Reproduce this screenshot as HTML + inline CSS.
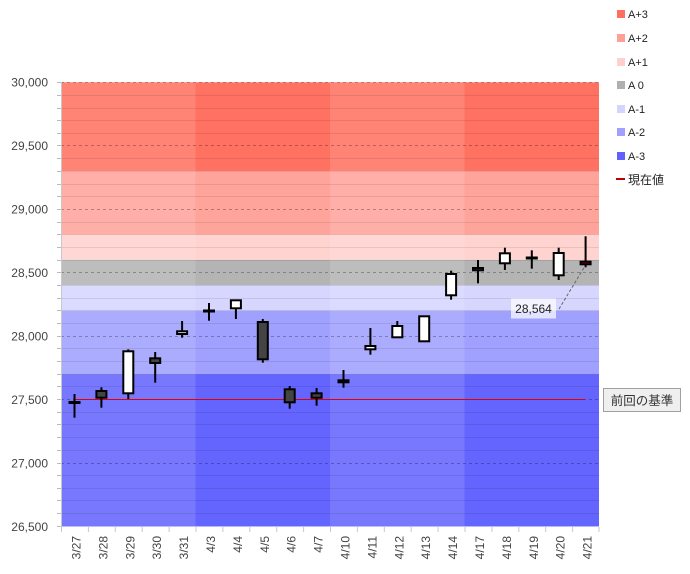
<!DOCTYPE html>
<html><head><meta charset="utf-8"><style>
html,body{margin:0;padding:0;background:#fff;}
svg{display:block;font-family:"Liberation Sans","Noto Sans CJK JP",sans-serif;}
</style></head><body>
<svg width="690" height="574" viewBox="0 0 690 574" xmlns="http://www.w3.org/2000/svg">
<!-- zones (dark base) -->
<rect x="61" y="82.3" width="538" height="88.8" fill="#FF7262"/>
<rect x="61" y="171.1" width="538" height="63.4" fill="#FFA49A"/>
<rect x="61" y="234.5" width="538" height="25.4" fill="#FFD3CF"/>
<rect x="61" y="259.9" width="538" height="25.4" fill="#B4B4B4"/>
<rect x="61" y="285.3" width="538" height="25.4" fill="#D6D6FF"/>
<rect x="61" y="310.7" width="538" height="63.4" fill="#A0A0FF"/>
<rect x="61" y="374.1" width="538" height="152.6" fill="#6464FF"/>
<!-- lighter weeks -->
<rect x="61" y="82.3" width="134.5" height="444.4" fill="#fff" fill-opacity="0.13"/>
<rect x="330" y="82.3" width="134.5" height="444.4" fill="#fff" fill-opacity="0.13"/>
<!-- minor grid -->
<g stroke="#000" stroke-opacity="0.09" stroke-width="1">
<line x1="61" x2="599" y1="95.5" y2="95.5"/><line x1="61" x2="599" y1="108.5" y2="108.5"/><line x1="61" x2="599" y1="120.5" y2="120.5"/><line x1="61" x2="599" y1="133.5" y2="133.5"/>
<line x1="61" x2="599" y1="158.5" y2="158.5"/><line x1="61" x2="599" y1="171.5" y2="171.5"/><line x1="61" x2="599" y1="184.5" y2="184.5"/><line x1="61" x2="599" y1="196.5" y2="196.5"/>
<line x1="61" x2="599" y1="222.5" y2="222.5"/><line x1="61" x2="599" y1="234.5" y2="234.5"/><line x1="61" x2="599" y1="247.5" y2="247.5"/><line x1="61" x2="599" y1="260.5" y2="260.5"/>
<line x1="61" x2="599" y1="285.5" y2="285.5"/><line x1="61" x2="599" y1="298.5" y2="298.5"/><line x1="61" x2="599" y1="310.5" y2="310.5"/><line x1="61" x2="599" y1="323.5" y2="323.5"/>
<line x1="61" x2="599" y1="348.5" y2="348.5"/><line x1="61" x2="599" y1="361.5" y2="361.5"/><line x1="61" x2="599" y1="374.5" y2="374.5"/><line x1="61" x2="599" y1="386.5" y2="386.5"/>
<line x1="61" x2="599" y1="412.5" y2="412.5"/><line x1="61" x2="599" y1="424.5" y2="424.5"/><line x1="61" x2="599" y1="437.5" y2="437.5"/><line x1="61" x2="599" y1="450.5" y2="450.5"/>
<line x1="61" x2="599" y1="475.5" y2="475.5"/><line x1="61" x2="599" y1="488.5" y2="488.5"/><line x1="61" x2="599" y1="500.5" y2="500.5"/><line x1="61" x2="599" y1="513.5" y2="513.5"/>
</g>
<!-- major dashed grid -->
<g stroke="#000" stroke-opacity="0.28" stroke-width="1" stroke-dasharray="3,3">
<line x1="61" x2="599" y1="82.5" y2="82.5"/><line x1="61" x2="599" y1="145.5" y2="145.5"/><line x1="61" x2="599" y1="209.5" y2="209.5"/>
<line x1="61" x2="599" y1="272.5" y2="272.5"/><line x1="61" x2="599" y1="336.5" y2="336.5"/><line x1="61" x2="599" y1="399.5" y2="399.5"/><line x1="61" x2="599" y1="463.5" y2="463.5"/>
</g>
<!-- axes -->
<line x1="61.5" y1="82" x2="61.5" y2="527" stroke="#c8c8c8"/>
<line x1="61" y1="526.5" x2="599" y2="526.5" stroke="#d0d0ff" stroke-opacity="0.6"/>
<g stroke="#bbb">
<line x1="57" x2="61" y1="82.5" y2="82.5"/><line x1="57" x2="61" y1="95.5" y2="95.5"/><line x1="57" x2="61" y1="108.5" y2="108.5"/><line x1="57" x2="61" y1="120.5" y2="120.5"/><line x1="57" x2="61" y1="133.5" y2="133.5"/>
<line x1="57" x2="61" y1="145.5" y2="145.5"/><line x1="57" x2="61" y1="158.5" y2="158.5"/><line x1="57" x2="61" y1="171.5" y2="171.5"/><line x1="57" x2="61" y1="184.5" y2="184.5"/><line x1="57" x2="61" y1="196.5" y2="196.5"/>
<line x1="57" x2="61" y1="209.5" y2="209.5"/><line x1="57" x2="61" y1="222.5" y2="222.5"/><line x1="57" x2="61" y1="234.5" y2="234.5"/><line x1="57" x2="61" y1="247.5" y2="247.5"/><line x1="57" x2="61" y1="260.5" y2="260.5"/>
<line x1="57" x2="61" y1="272.5" y2="272.5"/><line x1="57" x2="61" y1="285.5" y2="285.5"/><line x1="57" x2="61" y1="298.5" y2="298.5"/><line x1="57" x2="61" y1="310.5" y2="310.5"/><line x1="57" x2="61" y1="323.5" y2="323.5"/>
<line x1="57" x2="61" y1="336.5" y2="336.5"/><line x1="57" x2="61" y1="348.5" y2="348.5"/><line x1="57" x2="61" y1="361.5" y2="361.5"/><line x1="57" x2="61" y1="374.5" y2="374.5"/><line x1="57" x2="61" y1="386.5" y2="386.5"/>
<line x1="57" x2="61" y1="399.5" y2="399.5"/><line x1="57" x2="61" y1="412.5" y2="412.5"/><line x1="57" x2="61" y1="424.5" y2="424.5"/><line x1="57" x2="61" y1="437.5" y2="437.5"/><line x1="57" x2="61" y1="450.5" y2="450.5"/>
<line x1="57" x2="61" y1="463.5" y2="463.5"/><line x1="57" x2="61" y1="475.5" y2="475.5"/><line x1="57" x2="61" y1="488.5" y2="488.5"/><line x1="57" x2="61" y1="500.5" y2="500.5"/><line x1="57" x2="61" y1="513.5" y2="513.5"/><line x1="57" x2="61" y1="526.5" y2="526.5"/>
</g>
<g stroke="#c8c8c8">
<line x1="61.5" x2="61.5" y1="527" y2="532"/><line x1="88.4" x2="88.4" y1="527" y2="532"/><line x1="115.3" x2="115.3" y1="527" y2="532"/><line x1="142.2" x2="142.2" y1="527" y2="532"/><line x1="169.1" x2="169.1" y1="527" y2="532"/>
<line x1="196" x2="196" y1="527" y2="532"/><line x1="222.9" x2="222.9" y1="527" y2="532"/><line x1="249.8" x2="249.8" y1="527" y2="532"/><line x1="276.7" x2="276.7" y1="527" y2="532"/><line x1="303.6" x2="303.6" y1="527" y2="532"/>
<line x1="330.5" x2="330.5" y1="527" y2="532"/><line x1="357.4" x2="357.4" y1="527" y2="532"/><line x1="384.3" x2="384.3" y1="527" y2="532"/><line x1="411.2" x2="411.2" y1="527" y2="532"/><line x1="438.1" x2="438.1" y1="527" y2="532"/>
<line x1="465" x2="465" y1="527" y2="532"/><line x1="491.9" x2="491.9" y1="527" y2="532"/><line x1="518.8" x2="518.8" y1="527" y2="532"/><line x1="545.7" x2="545.7" y1="527" y2="532"/><line x1="572.6" x2="572.6" y1="527" y2="532"/><line x1="599" x2="599" y1="527" y2="532"/>
</g>
<!-- y labels -->
<g font-size="12" fill="#444" text-anchor="end">
<text x="48" y="86.5">30,000</text><text x="48" y="150">29,500</text><text x="48" y="213.5">29,000</text>
<text x="48" y="277">28,500</text><text x="48" y="340.5">28,000</text><text x="48" y="404">27,500</text>
<text x="48" y="467.5">27,000</text><text x="48" y="531">26,500</text>
</g>
<!-- x labels -->
<g font-size="12" fill="#444" text-anchor="end">
<text transform="translate(80.5,536) rotate(-90)">3/27</text>
<text transform="translate(107.4,536) rotate(-90)">3/28</text>
<text transform="translate(134.3,536) rotate(-90)">3/29</text>
<text transform="translate(161.2,536) rotate(-90)">3/30</text>
<text transform="translate(188.1,536) rotate(-90)">3/31</text>
<text transform="translate(215,536) rotate(-90)">4/3</text>
<text transform="translate(241.9,536) rotate(-90)">4/4</text>
<text transform="translate(268.8,536) rotate(-90)">4/5</text>
<text transform="translate(295.7,536) rotate(-90)">4/6</text>
<text transform="translate(322.6,536) rotate(-90)">4/7</text>
<text transform="translate(349.5,536) rotate(-90)">4/10</text>
<text transform="translate(376.4,536) rotate(-90)">4/11</text>
<text transform="translate(403.3,536) rotate(-90)">4/12</text>
<text transform="translate(430.2,536) rotate(-90)">4/13</text>
<text transform="translate(457.1,536) rotate(-90)">4/14</text>
<text transform="translate(484,536) rotate(-90)">4/17</text>
<text transform="translate(510.9,536) rotate(-90)">4/18</text>
<text transform="translate(537.8,536) rotate(-90)">4/19</text>
<text transform="translate(564.7,536) rotate(-90)">4/20</text>
<text transform="translate(591.6,536) rotate(-90)">4/21</text>
</g>
<!-- previous reference line -->
<line x1="74" y1="399.5" x2="585" y2="399.5" stroke="#e00000" stroke-width="1"/>
<!-- candles -->
<g stroke="#000" stroke-width="2">
<line x1="74.5" x2="74.5" y1="394" y2="417.7"/><rect x="69.5" y="402" width="10" height="1" fill="#444"/>
<line x1="101.4" x2="101.4" y1="387.3" y2="407.7"/><rect x="96.4" y="391" width="10" height="6.7" fill="#444"/>
<line x1="128.3" x2="128.3" y1="349.3" y2="399"/><rect x="123.3" y="351.3" width="10" height="42" fill="#fff"/>
<line x1="155.2" x2="155.2" y1="352" y2="382.7"/><rect x="150.2" y="358.3" width="10" height="4.7" fill="#444"/>
<line x1="182.1" x2="182.1" y1="321" y2="337.7"/><rect x="177.1" y="331.3" width="10" height="2.7" fill="#fff"/>
<line x1="209" x2="209" y1="303" y2="320.7"/><rect x="204" y="310.5" width="10" height="1" fill="#444"/>
<line x1="235.9" x2="235.9" y1="300" y2="319"/><rect x="230.9" y="300.3" width="10" height="8" fill="#fff"/>
<line x1="262.8" x2="262.8" y1="319" y2="362.7"/><rect x="257.8" y="322" width="10" height="37.3" fill="#444"/>
<line x1="289.7" x2="289.7" y1="386" y2="408.7"/><rect x="284.7" y="389.3" width="10" height="13" fill="#444"/>
<line x1="316.6" x2="316.6" y1="388" y2="405.7"/><rect x="311.6" y="393.3" width="10" height="4.4" fill="#444"/>
<line x1="343.5" x2="343.5" y1="370" y2="387.7"/><rect x="338.5" y="380.3" width="10" height="2" fill="#444"/>
<line x1="370.4" x2="370.4" y1="328" y2="354.7"/><rect x="365.4" y="346" width="10" height="3.3" fill="#fff"/>
<line x1="397.3" x2="397.3" y1="321" y2="338"/><rect x="392.3" y="326" width="10" height="11.3" fill="#fff"/>
<rect x="419.2" y="316.3" width="10" height="25" fill="#fff"/>
<line x1="451.1" x2="451.1" y1="270.7" y2="299.7"/><rect x="446.1" y="274" width="10" height="21.3" fill="#fff"/>
<line x1="478" x2="478" y1="260" y2="283.3"/><rect x="473" y="268" width="10" height="2.3" fill="#444"/>
<line x1="504.9" x2="504.9" y1="247.7" y2="270"/><rect x="499.9" y="253.3" width="10" height="10" fill="#fff"/>
<line x1="531.8" x2="531.8" y1="250.3" y2="268.7"/><rect x="526.8" y="257.5" width="10" height="1" fill="#444"/>
<line x1="558.7" x2="558.7" y1="247.7" y2="280"/><rect x="553.7" y="253" width="10" height="22.3" fill="#fff"/>
<line x1="585.6" x2="585.6" y1="236.3" y2="267.3"/><rect x="580.6" y="261.7" width="10" height="2.6" fill="#cc0000"/>
</g>
<!-- current value label -->
<line x1="559" y1="309" x2="585" y2="266" stroke="#666" stroke-width="1" stroke-dasharray="3,2"/>
<rect x="511" y="298.5" width="45" height="20" fill="#fff" fill-opacity="0.7"/>
<text x="533.5" y="313" font-size="12" fill="#222" text-anchor="middle">28,564</text>
<!-- 前回の基準 -->
<rect x="603.5" y="388.5" width="77" height="23" fill="#efefef" stroke="#a0a0a0"/>
<text x="642" y="405" font-size="12.5" fill="#333" text-anchor="middle">前回の基準</text>
<!-- legend -->
<g font-size="11" fill="#222">
<rect x="617" y="10" width="8" height="8" fill="#FF6E5E"/><text x="628" y="18">A+3</text>
<rect x="617" y="34" width="8" height="8" fill="#FFA096"/><text x="628" y="42">A+2</text>
<rect x="617" y="58" width="8" height="8" fill="#FFD0CC"/><text x="628" y="66">A+1</text>
<rect x="617" y="81" width="8" height="8" fill="#B0B0B0"/><text x="628" y="89">A 0</text>
<rect x="617" y="105" width="8" height="8" fill="#D4D4FF"/><text x="628" y="113">A-1</text>
<rect x="617" y="128" width="8" height="8" fill="#A0A0FF"/><text x="628" y="136">A-2</text>
<rect x="617" y="152" width="8" height="8" fill="#6060FF"/><text x="628" y="160">A-3</text>
<line x1="616" x2="625" y1="179" y2="179" stroke="#c00000" stroke-width="2"/><text x="628" y="184" font-size="12">現在値</text>
</g>
</svg>
</body></html>
